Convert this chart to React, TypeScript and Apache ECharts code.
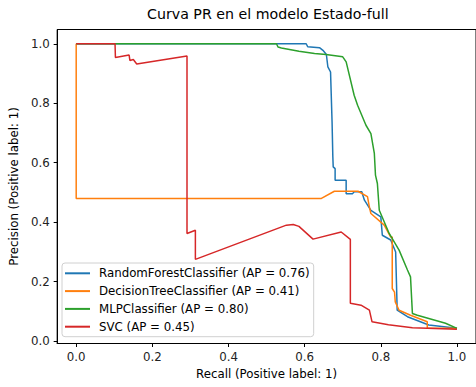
import React, { useEffect, useRef } from "react";
import * as echarts from "echarts";

const titleText = "Curva PR en el modelo Estado-full";
const xName = "Recall (Positive label: 1)";
const yName = "Precision (Positive label: 1)";
const tickValues = [0, 0.2, 0.4, 0.6, 0.8, 1.0];

const seriesNames = [
  "RandomForestClassifier (AP = 0.76)",
  "DecisionTreeClassifier (AP = 0.41)",
  "MLPClassifier (AP = 0.80)",
  "SVC (AP = 0.45)",
];
const seriesColors = ["#1f77b4", "#ff7f0e", "#2ca02c", "#d62728"];

// [recall, precision]
const rfCurve: [number, number][] = [
  [0, 1], [0.604, 1.0], [0.608, 0.99], [0.639, 0.987], [0.648, 0.978], [0.657, 0.964],
  [0.661, 0.922], [0.668, 0.905], [0.672, 0.737], [0.674, 0.62], [0.675, 0.586],
  [0.68, 0.58], [0.68, 0.541], [0.709, 0.541], [0.709, 0.496], [0.726, 0.496],
  [0.73, 0.502], [0.75, 0.502], [0.757, 0.474], [0.774, 0.44], [0.8, 0.418],
  [0.804, 0.356], [0.826, 0.34], [0.839, 0.3], [0.843, 0.104], [0.87, 0.082],
  [0.926, 0.054], [1.0, 0.043],
];

const dtCurve: [number, number][] = [
  [0, 1], [0, 0.48], [0.644, 0.48], [0.678, 0.504], [0.74, 0.504], [0.765, 0.486],
  [0.77, 0.451], [0.774, 0.429], [0.809, 0.39], [0.826, 0.35], [0.83, 0.35],
  [0.83, 0.177], [0.836, 0.165], [0.838, 0.132], [0.848, 0.104], [0.878, 0.087],
  [0.922, 0.065], [0.922, 0.043], [1.0, 0.043],
];

const mlpCurve: [number, number][] = [
  [0, 1], [0.526, 1.0], [0.53, 0.989], [0.539, 0.986], [0.585, 0.975], [0.626, 0.967],
  [0.656, 0.964], [0.7, 0.956], [0.709, 0.939], [0.73, 0.827], [0.739, 0.793],
  [0.761, 0.726], [0.774, 0.698], [0.783, 0.631], [0.786, 0.558], [0.791, 0.53],
  [0.796, 0.44], [0.822, 0.362], [0.848, 0.306], [0.87, 0.239], [0.878, 0.216],
  [0.883, 0.093], [0.896, 0.087], [0.97, 0.06], [1.0, 0.043],
];

const svcCurve: [number, number][] = [
  [0, 1], [0.102, 1.0], [0.103, 0.954], [0.139, 0.962], [0.141, 0.944], [0.15, 0.947],
  [0.159, 0.932], [0.291, 0.959], [0.291, 0.362], [0.313, 0.373], [0.313, 0.275],
  [0.552, 0.39], [0.57, 0.392], [0.585, 0.386], [0.622, 0.343], [0.696, 0.367],
  [0.72, 0.342], [0.72, 0.127], [0.748, 0.121], [0.77, 0.104], [0.777, 0.065],
  [0.82, 0.055], [0.883, 0.045], [1.0, 0.04],
];

const curves = [rfCurve, dtCurve, mlpCurve, svcCurve];

const FONT = "DejaVu Sans";
const FS = 11.8;

export default function App() {
  const ref = useRef<HTMLDivElement>(null);
  useEffect(() => {
    if (!ref.current) return;
    const chart = echarts.init(ref.current, null, { renderer: "svg" });
    chart.setOption({
      animation: false,
      backgroundColor: "#ffffff",
      title: {
        text: titleText,
        left: 147,
        top: 7,
        padding: 0,
        textStyle: { fontFamily: FONT, fontSize: 14.2, fontWeight: "normal", color: "#000" },
      },
      grid: {
        left: 55.8,
        right: -1.5,
        top: 29.5,
        bottom: 43.5,
        show: true,
        borderColor: "#000",
        borderWidth: 1,
      },
      legend: {
        orient: "vertical",
        left: 62,
        top: 263,
        padding: [3.3, 4, 3, 3],
        itemWidth: 25,
        itemHeight: 2,
        itemGap: 3.8,
        icon: "rect",
        backgroundColor: "rgba(255,255,255,0.8)",
        borderColor: "#d0d0d0",
        borderWidth: 1,
        borderRadius: 3,
        data: seriesNames,
        textStyle: { fontFamily: FONT, fontSize: FS, color: "#000", lineHeight: 14, padding: [0, 0, 0, 4] },
      },
      xAxis: {
        type: "value",
        min: -0.05,
        max: 1.05,
        name: xName,
        nameLocation: "middle",
        nameGap: 24,
        nameTextStyle: { fontFamily: FONT, fontSize: FS, color: "#000" },
        splitLine: { show: false },
        axisLine: { show: true, onZero: false, lineStyle: { color: "#000", width: 1 } },
        axisTick: { show: true, length: 3.5, customValues: tickValues, lineStyle: { color: "#000" } },
        axisLabel: {
          customValues: tickValues,
          margin: 7,
          fontFamily: FONT,
          fontSize: FS,
          color: "#222",
          formatter: (v: number) => v.toFixed(1),
        },
      },
      yAxis: {
        type: "value",
        min: -0.008,
        max: 1.048,
        name: yName,
        nameLocation: "middle",
        nameGap: 31.5,
        nameTextStyle: { fontFamily: FONT, fontSize: FS, color: "#000" },
        splitLine: { show: false },
        axisLine: { show: true, onZero: false, lineStyle: { color: "#000", width: 1 } },
        axisTick: { show: true, length: 3.5, customValues: tickValues, lineStyle: { color: "#000" } },
        axisLabel: {
          customValues: tickValues,
          margin: 7.5,
          fontFamily: FONT,
          fontSize: FS,
          color: "#222",
          formatter: (v: number) => v.toFixed(1),
        },
      },
      series: curves.map((c, i) => ({
        name: seriesNames[i],
        type: "line",
        data: c,
        symbol: "none",
        color: seriesColors[i],
        lineStyle: { color: seriesColors[i], width: 1.5 },
        emphasis: { disabled: true },
      })),
    });
    return () => chart.dispose();
  }, []);
  return (
    <div
      ref={ref}
      style={{ position: "fixed", left: 0, top: 0, width: 476, height: 387 }}
    />
  );
}
